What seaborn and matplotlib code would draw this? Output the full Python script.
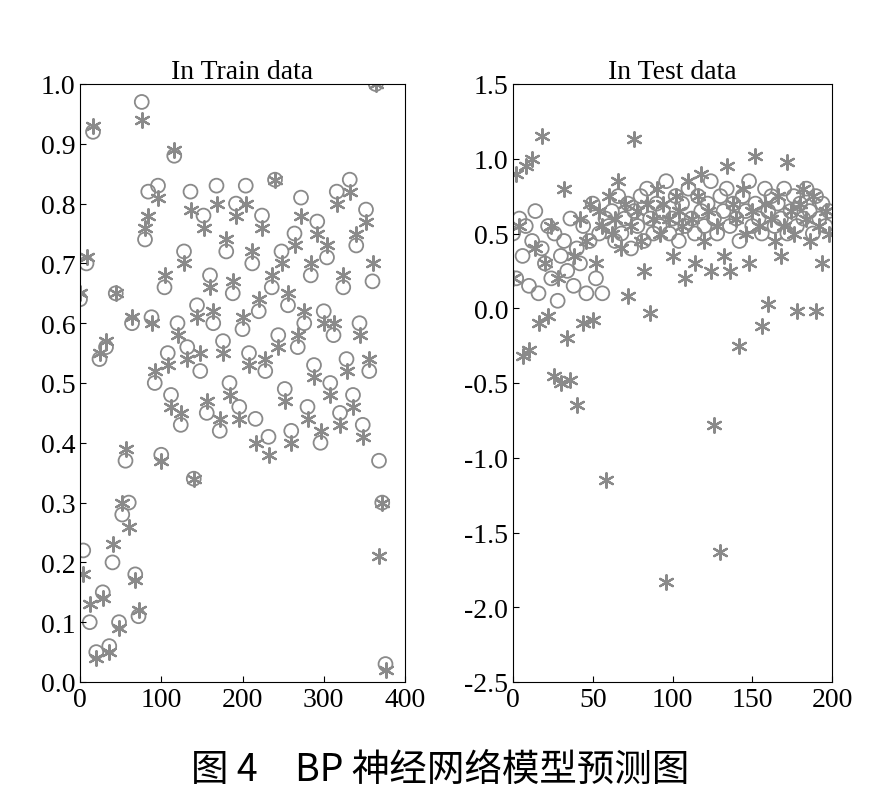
import numpy as np
import pandas as pd
import seaborn as sns
import matplotlib.pyplot as plt
from matplotlib import font_manager as fm

train_x = list(range(0, 380, 4))
train_actual = [0.64,0.22,0.70,0.10,0.92,0.05,0.54,0.15,0.56,0.06,0.20,0.65,0.10,0.28,0.37,0.30,0.60,0.18,0.11,0.97,
                0.74,0.82,0.61,0.50,0.83,0.38,0.66,0.55,0.48,0.88,0.60,0.43,0.72,0.56,0.82,0.34,0.63,0.52,0.78,0.45,
                0.68,0.60,0.83,0.42,0.57,0.72,0.50,0.65,0.80,0.46,0.59,0.83,0.55,0.70,0.44,0.62,0.78,0.52,0.41,0.66,
                0.84,0.58,0.72,0.49,0.63,0.42,0.75,0.56,0.81,0.60,0.46,0.68,0.53,0.77,0.40,0.62,0.71,0.50,0.58,0.82,
                0.45,0.66,0.54,0.84,0.48,0.73,0.60,0.43,0.79,0.52,0.67,1.00,0.37,0.30,0.03]
train_pred = [0.65,0.18,0.71,0.13,0.93,0.04,0.55,0.14,0.57,0.05,0.23,0.65,0.09,0.30,0.39,0.26,0.61,0.17,0.12,0.94,
              0.76,0.78,0.60,0.52,0.81,0.37,0.68,0.53,0.46,0.89,0.58,0.45,0.70,0.54,0.79,0.34,0.61,0.55,0.76,0.47,
              0.66,0.62,0.80,0.44,0.55,0.74,0.48,0.67,0.78,0.44,0.61,0.80,0.53,0.72,0.40,0.64,0.76,0.54,0.38,0.68,
              0.84,0.56,0.70,0.47,0.65,0.40,0.73,0.58,0.78,0.62,0.44,0.70,0.51,0.75,0.42,0.60,0.73,0.48,0.60,0.80,
              0.43,0.68,0.52,0.82,0.46,0.75,0.58,0.41,0.77,0.54,0.70,1.00,0.21,0.30,0.02]

test_x = list(range(0, 200, 2))
test_actual = [0.50,0.20,0.60,0.35,0.55,0.15,0.45,0.65,0.10,0.40,0.30,0.55,0.20,0.50,0.05,0.35,0.45,0.25,0.60,0.15,
               0.40,0.30,0.55,0.10,0.45,0.70,0.20,0.50,0.10,0.60,0.55,0.65,0.45,0.75,0.50,0.60,0.70,0.40,0.65,0.55,
               0.75,0.45,0.80,0.60,0.50,0.70,0.55,0.65,0.85,0.50,0.60,0.75,0.45,0.70,0.55,0.80,0.60,0.50,0.75,0.65,
               0.55,0.70,0.85,0.60,0.50,0.75,0.65,0.80,0.55,0.70,0.60,0.45,0.75,0.65,0.85,0.55,0.70,0.60,0.50,0.80,
               0.65,0.75,0.55,0.70,0.60,0.80,0.50,0.65,0.75,0.55,0.70,0.60,0.80,0.65,0.50,0.75,0.60,0.70,0.55,0.65]
test_pred = [0.20,0.90,0.55,-0.32,0.95,-0.28,1.00,0.40,-0.10,1.15,0.30,-0.05,0.55,-0.45,0.20,-0.50,0.80,-0.20,-0.48,0.35,
             -0.65,0.60,-0.10,0.45,0.70,-0.08,0.30,0.65,0.55,-1.15,0.75,0.50,0.60,0.85,0.40,0.70,0.08,0.55,1.13,0.65,
             0.45,0.25,0.70,-0.03,0.60,0.80,0.50,0.70,-1.83,0.60,0.35,0.75,0.65,0.55,0.20,0.85,0.60,0.30,0.75,0.90,
             0.45,0.65,0.25,-0.78,0.55,-1.63,0.35,0.95,0.25,0.70,0.60,-0.25,0.80,0.50,0.30,0.65,1.02,0.55,-0.12,0.70,
             0.03,0.60,0.45,0.75,0.35,0.55,0.98,0.65,0.50,-0.02,0.70,0.80,0.60,0.45,0.75,-0.02,0.55,0.30,0.65,0.50]

plt.rcParams['font.family'] = 'Liberation Serif'
fig = plt.figure(figsize=(8.81, 8.03), dpi=100)
ax1 = fig.add_axes([80/881, 1-683/803, 325/881, 598/803])
ax2 = fig.add_axes([513/881, 1-683/803, 319/881, 598/803])
gray = '#8a8a8a'
star = (6, 2, 0)

def draw(ax, xs, a, p):
    df = pd.DataFrame({'x': xs, 'a': a, 'p': p})
    sns.scatterplot(data=df, x='x', y='a', ax=ax, marker='o', s=100, facecolors='none', edgecolor=gray, linewidth=1.3)
    sns.scatterplot(data=df, x='x', y='p', ax=ax, marker=star, s=110, color=gray, edgecolor=gray, linewidth=1.6)

draw(ax1, train_x, train_actual, train_pred)
draw(ax2, test_x, test_actual, test_pred)

ax1.set_xlim(0, 400); ax1.set_ylim(0, 1.0)
ax1.set_xticks([0, 100, 200, 300, 400]); ax1.set_yticks(np.arange(0, 1.01, 0.1))
ax1.set_yticklabels([f'{v:.1f}' for v in np.arange(0, 1.01, 0.1)])
ax2.set_xlim(0, 200); ax2.set_ylim(-2.5, 1.5)
ax2.set_xticks([0, 50, 100, 150, 200]); ax2.set_yticks(np.arange(-2.5, 1.51, 0.5))
ax2.set_yticklabels([f'{v:.1f}' for v in np.arange(-2.5, 1.51, 0.5)])
for ax, t in [(ax1, 'In Train data'), (ax2, 'In Test data')]:
    ax.set_title(t, fontsize=20, pad=4)
    ax.set_xlabel(''); ax.set_ylabel('')
    ax.tick_params(labelsize=20, direction='in', length=4)
    for s in ax.spines.values():
        s.set_linewidth(0.8)

cjk = None
for f in fm.fontManager.ttflist:
    if 'Sans CJK' in f.name:
        if cjk is None or 'SC' in f.name:
            cjk = f.fname
        if 'SC' in f.name:
            break
fp = fm.FontProperties(fname=cjk, size=27) if cjk else fm.FontProperties(family='Noto Sans CJK SC', size=27)
fig.text(0.5, 1-770/803, '图 4　BP 神经网络模型预测图', ha='center', va='center', fontproperties=fp)
fig.savefig('out.png', dpi=100)
